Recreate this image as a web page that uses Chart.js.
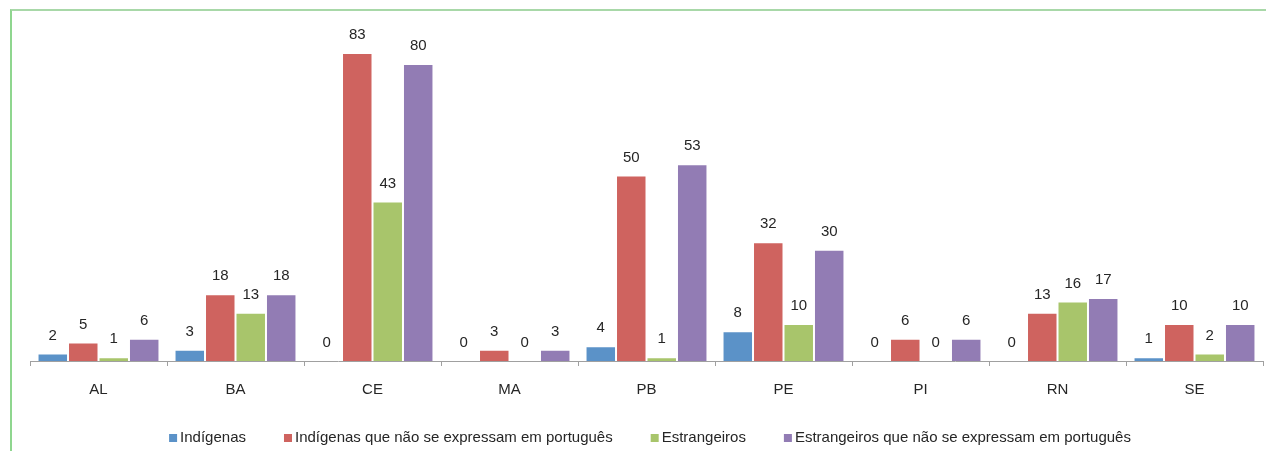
<!DOCTYPE html>
<html lang="pt">
<head>
<meta charset="utf-8">
<title>Indígenas e estrangeiros por UF</title>
<script src="https://cdn.jsdelivr.net/npm/chart.js@4/dist/chart.umd.min.js"></script>
<style>
    html, body { margin: 0; padding: 0; background: #ffffff; }
    #wrap { position: relative; width: 1266px; height: 451px; overflow: hidden; }
    #frame {
        position: absolute; left: 10px; top: 9px; right: -4px; bottom: -4px;
        border-top: 2px solid #a8d8a8; border-left: 2px solid #8fd68f;
        pointer-events: none;
    }
    canvas { position: absolute; left: 0; top: 0; }
</style>
</head>
<body>
<div id="wrap">
    <canvas id="ufChart" width="1266" height="451"></canvas>
    <div id="frame"></div>
</div>
<script>
const estados = ["AL", "BA", "CE", "MA", "PB", "PE", "PI", "RN", "SE"];
const indigenas = [2, 3, 0, 0, 4, 8, 0, 0, 1];
const indigenasNaoPortugues = [5, 18, 83, 3, 50, 32, 6, 13, 10];
const estrangeiros = [1, 13, 43, 0, 1, 10, 0, 16, 2];
const estrangeirosNaoPortugues = [6, 18, 80, 3, 53, 30, 6, 17, 10];

const FONT = "'Liberation Sans', Arial, sans-serif";
const TEXT = "#262626";

// writes each bar's value above it
const valueLabels = {
    id: "valueLabels",
    afterDatasetsDraw(chart) {
        const ctx = chart.ctx;
        ctx.save();
        ctx.font = "15px " + FONT;
        ctx.fillStyle = TEXT;
        ctx.textAlign = "center";
        ctx.textBaseline = "middle";
        chart.data.datasets.forEach((ds, i) => {
            const meta = chart.getDatasetMeta(i);
            meta.data.forEach((bar, j) => {
                ctx.fillText(String(ds.data[j]), bar.x, bar.y - 18);
            });
        });
        ctx.restore();
    }
};

// one-line legend under the axis: small square, tight gap, wide spacing
const bottomLegend = {
    id: "bottomLegend",
    afterDraw(chart) {
        const ctx = chart.ctx;
        const box = 8, textGap = 3, itemGap = 38, y = 438;
        ctx.save();
        ctx.font = "15px " + FONT;
        ctx.textBaseline = "middle";
        ctx.textAlign = "left";
        const items = chart.data.datasets.map((ds) => ({
            text: ds.label,
            color: ds.backgroundColor,
            w: ctx.measureText(ds.label).width
        }));
        const total = items.reduce((s, it) => s + box + textGap + it.w, 0) + itemGap * (items.length - 1);
        let x = 650 - total / 2;
        items.forEach((it) => {
            ctx.fillStyle = it.color;
            ctx.fillRect(x, y - 4, box, box);
            ctx.fillStyle = TEXT;
            ctx.fillText(it.text, x + box + textGap, y);
            x += box + textGap + it.w + itemGap;
        });
        ctx.restore();
    }
};

function serie(label, data, color) {
    return {
        label,
        data,
        backgroundColor: color,
        borderColor: "rgba(255,255,255,0.35)",
        borderWidth: 1,
        borderSkipped: "bottom"
    };
}

new Chart(document.getElementById("ufChart"), {
    type: "bar",
    data: {
        labels: estados,
        datasets: [
            serie("Indígenas", indigenas, "#5b92c8"),
            serie("Indígenas que não se expressam em português", indigenasNaoPortugues, "#cf635f"),
            serie("Estrangeiros", estrangeiros, "#a8c56b"),
            serie("Estrangeiros que não se expressam em português", estrangeirosNaoPortugues, "#927cb4")
        ]
    },
    options: {
        responsive: false,
        animation: false,
        events: [],
        datasets: { bar: { categoryPercentage: 0.89, barPercentage: 1 } },
        layout: { padding: { left: 30, right: 3, top: 27, bottom: 37 } },
        scales: {
            x: {
                grid: {
                    display: true,
                    offset: true,
                    drawOnChartArea: false,
                    drawTicks: true,
                    tickLength: 5,
                    color: "#a0a0a0"
                },
                border: { display: true, color: "#a0a0a0", width: 1 },
                ticks: { color: TEXT, font: { family: FONT, size: 15 }, padding: 15 }
            },
            y: {
                display: false,
                min: 0,
                max: 90
            }
        },
        plugins: {
            tooltip: { enabled: false },
            legend: { display: false }
        }
    },
    plugins: [valueLabels, bottomLegend]
});
</script>
</body>
</html>
